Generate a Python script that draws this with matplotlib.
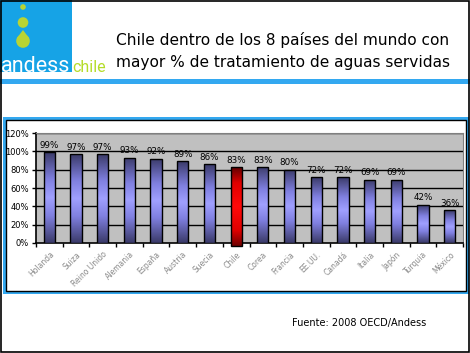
import numpy as np
import matplotlib
matplotlib.use("Agg")
import matplotlib.pyplot as plt
from matplotlib.patches import Rectangle, Circle, Polygon
from matplotlib.colors import LinearSegmentedColormap

# data
paises = ["Holanda", "Suiza", "Reino Unido", "Alemania", "España", "Austria",
          "Suecia", "Chile", "Corea", "Francia", "EE.UU.", "Canadá",
          "Italia", "Japón", "Turquia", "México"]
valores = [99, 97, 97, 93, 92, 89, 86, 83, 83, 80, 72, 72, 69, 69, 42, 36]
etiquetas = ["99%", "97%", "97%", "93%", "92%", "89%", "86%", "83%", "83%",
             "80%", "72%", "72%", "69%", "69%", "42%", "36%"]
resaltado = "Chile"

W, H = 470, 353
fig = plt.figure(figsize=(W / 100, H / 100), dpi=100)
fig.patch.set_facecolor("white")

# background layer in pixel coords for the slide decorations
bg = fig.add_axes([0, 0, 1, 1])
bg.set_xlim(0, W)
bg.set_ylim(H, 0)
bg.axis("off")

azul = "#33a8f0"
verde = "#b8d433"

# logo block
bg.add_patch(Rectangle((0, 0), 72, 72, color="#16a3e6", lw=0))
bg.add_patch(Circle((23, 7), 2.8, color=verde, lw=0))
bg.add_patch(Circle((23, 22.5), 5.3, color=verde, lw=0))
bg.add_patch(Circle((23, 41), 6.8, color=verde, lw=0))
bg.add_patch(Polygon([[16.6, 38.5], [29.4, 38.5], [23, 30]], color=verde, lw=0))
bg.text(1, 71.5, "andess", color="white", fontsize=15.5, va="baseline",
        ha="left", family="Roboto")
bg.text(72, 71.5, "chile", color="#b4dc28", fontsize=11.5, va="baseline",
        ha="left", family="Roboto")

# title
bg.text(283, 40, "Chile dentro de los 8 países del mundo con", fontsize=11.1,
        ha="center", va="center", family="DejaVu Sans")
bg.text(283, 63, "mayor % de tratamiento de aguas servidas", fontsize=11.1,
        ha="center", va="center", family="DejaVu Sans")

# header line
bg.add_patch(Rectangle((0, 79), W, 5, color=azul, lw=0))

# chart panel
bg.add_patch(Rectangle((3, 117), 466, 177, color=azul, lw=0))
bg.add_patch(Rectangle((6, 120), 460, 171, facecolor="white",
                       edgecolor="black", lw=1))

# source
bg.text(292, 323, "Fuente: 2008 OECD/Andess", fontsize=7, ha="left",
        va="center", family="DejaVu Sans")

# outer frame
bg.add_patch(Rectangle((0.5, 0.5), W - 1.5, H - 1.5, fill=False,
                       edgecolor="black", lw=1.2))

# plot area
ax = fig.add_axes([36 / W, 1 - 243 / H, (463 - 36) / W, (243 - 133) / H])
ax.set_facecolor("#c0c0c0")
x = np.arange(len(paises))

azules = LinearSegmentedColormap.from_list(
    "az", [(0, "#3a3a68"), (0.3, "#8080e0"), (0.5, "#a0a0ff"),
           (0.7, "#8080e0"), (1, "#3a3a68")])
rojos = LinearSegmentedColormap.from_list(
    "rj", [(0, "#700000"), (0.2, "#e00000"), (0.5, "#ff0a0a"),
           (0.8, "#e00000"), (1, "#600000")])
grad = np.linspace(0, 1, 256).reshape(-1, 1)

for yv in range(20, 121, 20):
    ax.axhline(yv, color="black", lw=1, zorder=1)

for i, (p, v) in enumerate(zip(paises, valores)):
    base = -3 if p == resaltado else 0
    b = ax.bar(i, v - base, bottom=base, width=0.42, facecolor="none",
               edgecolor="black", lw=1, zorder=4, clip_on=(p != resaltado))[0]
    cm = rojos if p == resaltado else azules
    im = ax.imshow(grad, cmap=cm, aspect="auto", origin="lower",
                   extent=[i - 0.21, i + 0.21, base, v], zorder=3)
    im.set_clip_path(b)
    im.set_clip_on(p != resaltado)
    ax.text(i, v + 2.5, etiquetas[i], ha="center", va="bottom", fontsize=6.3,
            zorder=5)

ax.set_xlim(-0.5, len(paises) - 0.5)
ax.set_ylim(0, 120)
ax.set_yticks(range(0, 121, 20))
ax.set_yticklabels([f"{t}%" for t in range(0, 121, 20)], fontsize=6)
ax.set_xticks(x)
ax.set_xticklabels(paises, rotation=45, ha="right", rotation_mode="anchor",
                   fontsize=5.5, color="#8a8a8a")
ax.set_xticks(np.arange(-0.5, len(paises), 1), minor=True)
ax.tick_params(axis="x", which="major", length=0, pad=5)
ax.tick_params(axis="x", which="minor", length=3, width=1, direction="out")
ax.tick_params(axis="y", length=3, width=1, pad=2)
ax.spines["left"].set_color("black")
ax.spines["bottom"].set_color("black")
ax.spines["left"].set_linewidth(1.2)
ax.spines["bottom"].set_linewidth(1.2)
ax.spines["top"].set_color("#808080")
ax.spines["right"].set_color("#808080")
ax.set_zorder(2)

fig.savefig("out.png", dpi=100)
